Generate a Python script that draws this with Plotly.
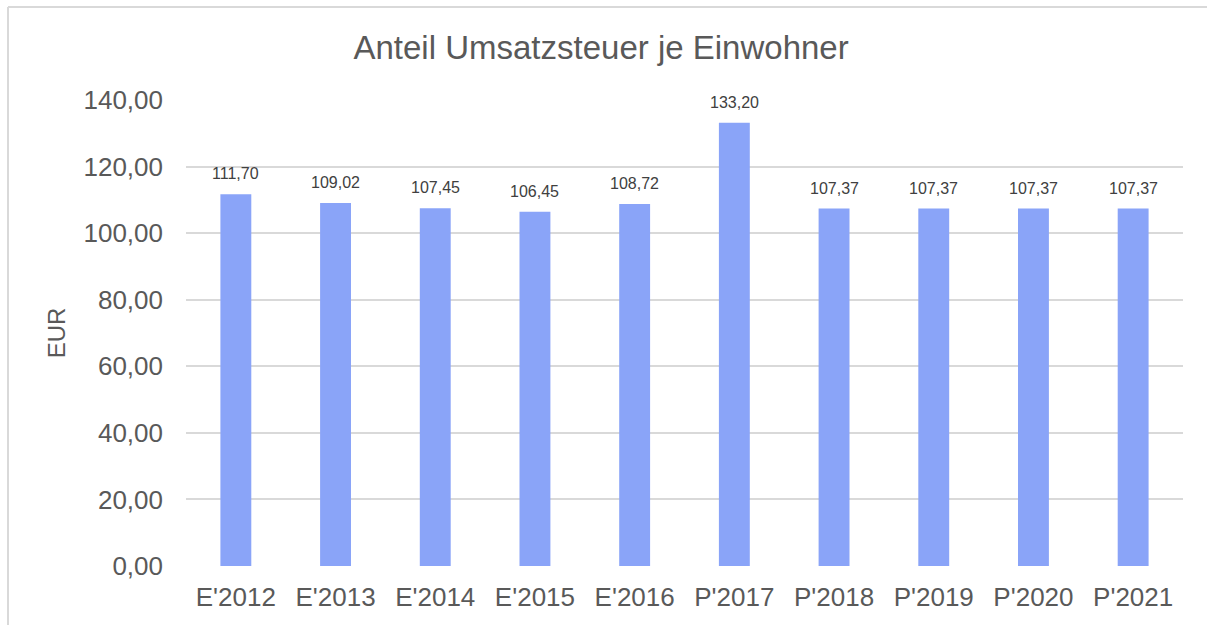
import plotly.graph_objects as go

categories = ["E'2012", "E'2013", "E'2014", "E'2015", "E'2016",
              "P'2017", "P'2018", "P'2019", "P'2020", "P'2021"]
values = [111.70, 109.02, 107.45, 106.45, 108.72,
          133.20, 107.37, 107.37, 107.37, 107.37]
tick_vals = [0, 20, 40, 60, 80, 100, 120, 140]
tick_text = ["0,00", "20,00", "40,00", "60,00", "80,00", "100,00", "120,00", "140,00"]

def de(v):
    return f"{v:.2f}".replace(".", ",")

FONT = "Liberation Sans, Arial, sans-serif"
TXT = "#595959"

fig = go.Figure()
fig.add_trace(go.Bar(x=categories, y=values, marker=dict(color="#8AA4F8", line=dict(width=0)),
                     hoverinfo="x+y"))

for c, v in zip(categories, values):
    fig.add_annotation(x=c, y=v, text=de(v), showarrow=False, yanchor="bottom",
                       yshift=10, font=dict(family=FONT, size=16, color="#404040"))

fig.update_layout(
    width=1207, height=625,
    margin=dict(l=186, r=24, t=100, b=59),
    paper_bgcolor="white", plot_bgcolor="white",
    bargap=0.69,
    showlegend=False,
    title=dict(text="Anteil Umsatzsteuer je Einwohner", x=0.498, xanchor="center",
               y=1 - 47 / 625, yanchor="middle", yref="container",
               font=dict(family=FONT, size=33, color=TXT)),
    font=dict(family=FONT, color=TXT),
    xaxis=dict(showgrid=False, showline=False, ticks="", zeroline=False,
               tickfont=dict(family=FONT, size=26, color=TXT), ticklabelstandoff=13),
    yaxis=dict(range=[0, 140], tickvals=tick_vals, ticktext=tick_text,
               showgrid=True, gridcolor="#d9d9d9", gridwidth=2, zeroline=False,
               showline=False, ticks="",
               tickfont=dict(family=FONT, size=26, color=TXT), ticklabelstandoff=22,
               title=dict(text="EUR", font=dict(family=FONT, size=24, color=TXT), standoff=11)),
    shapes=[
        dict(type="line", xref="paper", yref="paper", x0=(8 - 186) / 997, x1=1.1,
             y0=(566 - 7) / 466, y1=(566 - 7) / 466, line=dict(color="#d9d9d9", width=2)),
        dict(type="line", xref="paper", yref="paper", x0=(8 - 186) / 997, x1=(8 - 186) / 997,
             y0=(566 - 7) / 466, y1=-0.3, line=dict(color="#d9d9d9", width=2)),
    ],
)

fig.write_html("out.html", config={"displayModeBar": False},
               post_script="document.body.style.margin='0';")
